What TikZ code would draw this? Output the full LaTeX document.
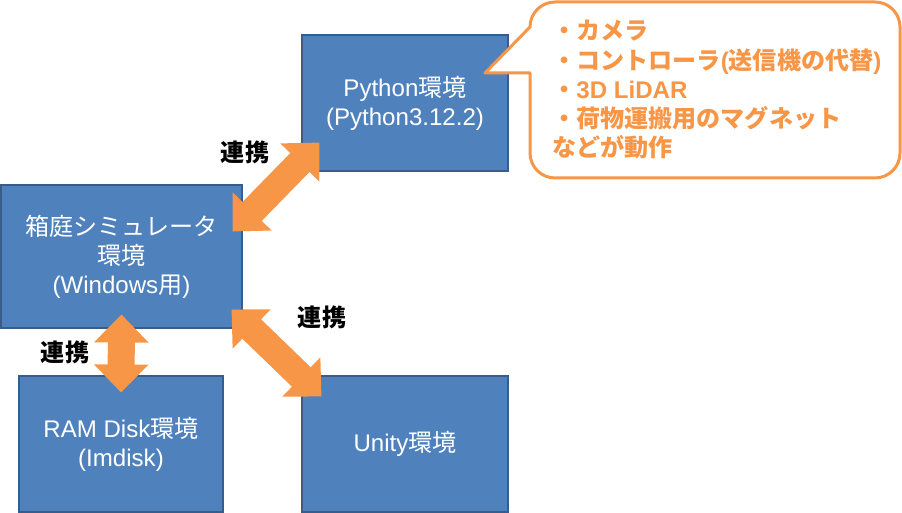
\documentclass[tikz,border=0pt]{standalone}
\usepackage{fontspec}
\setmainfont{Liberation Sans}
\newfontfamily\jpfont{Noto Sans CJK JP}
\newcommand{\ja}[1]{{\jpfont #1}}
\usepackage{tikz}
\usetikzlibrary{arrows.meta, calc}
\definecolor{boxblue}{HTML}{4F81BD}
\definecolor{boxline}{HTML}{385D8A}
\definecolor{linkorange}{HTML}{F79646}
\tikzstyle{env} = [rectangle, fill=boxblue, draw=boxline, line width=0.6pt, text=white, align=center, font=\fontsize{13.7}{16.5}\selectfont, minimum width=4.12cm, minimum height=2.72cm, inner sep=0pt]
\tikzstyle{link} = [line width=0.54cm, draw=linkorange, >={Triangle[width=1.06cm,length=0.56cm]}, <->]
\tikzstyle{linklabel} = [font=\bfseries\fontsize{13.7}{16.5}\selectfont, text=black]
\tikzstyle{balloon} = [draw=linkorange, fill=white, line width=1.7pt, line join=round]

\begin{document}
\begin{tikzpicture}
        \useasboundingbox (0,0) rectangle (18.04,10.26);
        % environments
        \node (py) [env] at (8.10,8.20) {Python\ja{環境}\\(Python3.12.2)};
        \node (sim) [env, minimum width=4.82cm, minimum height=2.86cm] at (2.43,5.13) {\ja{箱庭シミュレータ}\\\ja{環境}\\(Windows\ja{用})};
        \node (ram) [env, minimum width=4.08cm] at (2.42,1.38) {RAM Disk\ja{環境}\\(Imdisk)};
        \node (unity) [env] at (8.10,1.38) {Unity\ja{環境}};
        % links
        \draw [link] ($(sim.north east)+(-0.20,-0.94)$) -- ($(py.south west)+(0.36,0.58)$);
        \node (lnkpy) [linklabel] at (4.90,7.22) {\ja{連携}};
        \draw [link] ($(sim.south east)+(-0.22,0.38)$) -- ($(unity.north west)+(0.40,-0.42)$);
        \node (lnkunity) [linklabel] at (6.44,3.92) {\ja{連携}};
        \draw [link] ($(sim.south)+(0,0.28)$) -- ($(ram.north)+(0,-0.34)$);
        \node (lnkram) [linklabel] at (1.30,3.22) {\ja{連携}};
        % balloon
        \draw [balloon] (9.70,8.80) -- (10.6,8.80) -- (10.6,7.20) arc[start angle=180,end angle=270,radius=0.5]
            -- (17.5,6.70) arc[start angle=270,end angle=360,radius=0.5]
            -- (18.0,9.72) arc[start angle=0,end angle=90,radius=0.5]
            -- (11.1,10.22) arc[start angle=90,end angle=180,radius=0.5] -- cycle;
        \node (feat) [anchor=north west, inner sep=0pt, align=left, text=linkorange, font=\bfseries\fontsize{13.7}{16.6}\selectfont] at (11.04,9.86) {\ja{・カメラ}\\\ja{・コントローラ}(\ja{送信機の代替})\\\ja{・}3D LiDAR\\\ja{・荷物運搬用のマグネット}\\\ja{などが動作}};
    \end{tikzpicture}
\end{document}
